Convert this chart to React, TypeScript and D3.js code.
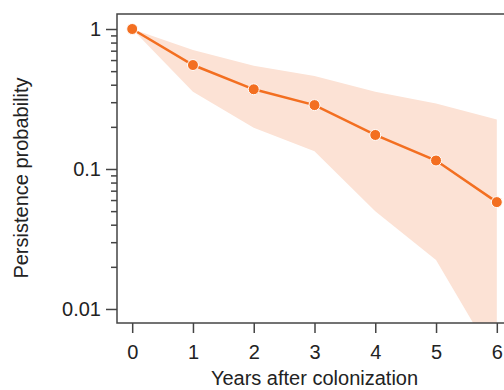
import React, { useEffect, useRef } from 'react'
import { select, scaleLinear, scaleLog, area, line, axisBottom, axisLeft, range } from 'd3'

// values
const years = [0, 1, 2, 3, 4, 5, 6]
const persistence = [1.0, 0.553, 0.371, 0.286, 0.175, 0.115, 0.058]
const upperCI = [1.0, 0.708, 0.547, 0.462, 0.357, 0.294, 0.226]
const lowerCI = [1.0, 0.357, 0.197, 0.134, 0.05, 0.0224, 0.0041]
const yTickValues = [1, 0.1, 0.01]
const yTickLabels = ['1', '0.1', '0.01']

const width = 504
const height = 390
const margins = { t: 14, b: 67, l: 117, r: -8 }

const lineColor = '#f36f21'
const bandColor = '#fce2d5'
const axisColor = '#444444'
const textColor = '#222222'
const font = '"Liberation Sans", Arial, sans-serif'
const fontSize = 20

export default function App() {
  const container = useRef<SVGSVGElement | null>(null)

  useEffect(() => {
    const svg = select(container.current)
    svg.selectAll('*').remove()

    const plotwidth = width - margins.l - margins.r
    const plotheight = height - margins.t - margins.b

    const xScale = scaleLinear().domain([-0.25, 6.25]).range([0, plotwidth])
    const yScale = scaleLog().domain([0.00794, 1.28]).range([plotheight, 0])

    const data = years.map((x, i) => ({ x, y: persistence[i], lo: lowerCI[i], hi: upperCI[i] }))

    const g = svg.append('g').attr('transform', `translate(${margins.l}, ${margins.t})`)

    g.append('clipPath').attr('id', 'plot-clip')
      .append('rect').attr('width', plotwidth).attr('height', plotheight)

    // confidence band
    const band = area<any>()
      .x(d => xScale(d.x))
      .y0(d => yScale(d.lo))
      .y1(d => yScale(d.hi))
    g.append('path')
      .datum(data)
      .attr('clip-path', 'url(#plot-clip)')
      .attr('d', band)
      .attr('fill', bandColor)

    // mean line
    const meanLine = line<any>().x(d => xScale(d.x)).y(d => yScale(d.y))
    g.append('path')
      .datum(data)
      .attr('d', meanLine)
      .attr('fill', 'none')
      .attr('stroke', lineColor)
      .attr('stroke-width', 2.5)

    g.selectAll('.pt').data(data).join('circle')
      .attr('class', 'pt')
      .attr('cx', d => xScale(d.x))
      .attr('cy', d => yScale(d.y))
      .attr('r', 5.5)
      .attr('fill', lineColor)
      .attr('stroke', '#ffffff')
      .attr('stroke-width', 1)

    // frame
    g.append('rect')
      .attr('width', plotwidth)
      .attr('height', plotheight)
      .attr('fill', 'none')
      .attr('stroke', axisColor)
      .attr('stroke-width', 1.5)

    // x axis
    const xAxis = axisBottom(xScale).tickValues(years).tickSize(10).tickSizeOuter(0).tickPadding(12)
      .tickFormat(d => String(d))
    const xg = g.append('g').attr('transform', `translate(0, ${plotheight})`).call(xAxis)
    xg.select('.domain').remove()
    xg.selectAll('line').attr('stroke', axisColor).attr('stroke-width', 1.5)
    xg.selectAll('text').attr('font-size', fontSize).attr('font-family', font).attr('fill', textColor)

    // y axis, minor ticks first
    const minor: number[] = []
    yTickValues.forEach(v => range(2, 10).forEach(k => {
      const m = v * k
      if (m < 1.28 && m > 0.00794) minor.push(m)
    }))
    const yMinor = axisLeft(yScale).tickValues(minor).tickSize(6).tickFormat(() => '')
    const ymg = g.append('g').call(yMinor)
    ymg.select('.domain').remove()
    ymg.selectAll('line').attr('stroke', axisColor).attr('stroke-width', 1.5)

    const yAxis = axisLeft(yScale).tickValues(yTickValues).tickSize(11).tickPadding(5)
      .tickFormat((d, i) => yTickLabels[i])
    const yg = g.append('g').call(yAxis)
    yg.select('.domain').remove()
    yg.selectAll('line').attr('stroke', axisColor).attr('stroke-width', 1.5)
    yg.selectAll('text').attr('font-size', fontSize).attr('font-family', font).attr('fill', textColor)

    // titles
    svg.append('text')
      .attr('x', margins.l + xScale(3))
      .attr('y', 385)
      .attr('text-anchor', 'middle')
      .attr('font-size', fontSize)
      .attr('font-family', font)
      .attr('fill', textColor)
      .text('Years after colonization')

    svg.append('text')
      .attr('transform', `translate(28, 178) rotate(-90)`)
      .attr('text-anchor', 'middle')
      .attr('font-size', fontSize)
      .attr('font-family', font)
      .attr('fill', textColor)
      .text('Persistence probability')
  }, [])

  return (
    <svg
      ref={container}
      width={width}
      height={height}
      style={{ position: 'absolute', left: 0, top: 0, background: '#fff' }}
    />
  )
}
